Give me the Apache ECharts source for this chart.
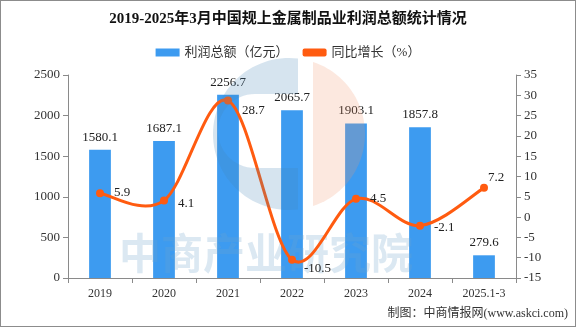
<!DOCTYPE html>
<html>
<head>
<meta charset="utf-8">
<script src="https://cdn.jsdelivr.net/npm/echarts@6/dist/echarts.min.js"></script>
<style>
  html, body { margin: 0; padding: 0; background: #fff; }
  #chart { width: 574px; height: 325px; border: 1px solid #8c8c8c; }
</style>
</head>
<body>
<div id="chart"></div>
<script>
// Periods on the category axis
const categories = ['2019', '2020', '2021', '2022', '2023', '2024', '2025.1-3'];
// Total profit, 100 million yuan
const profit = [1580.1, 1687.1, 2256.7, 2065.7, 1903.1, 1857.8, 279.6];
// Year-on-year growth, %
const growth = [5.9, 4.1, 28.7, -10.5, 4.5, -2.1, 7.2];
// Axis tick settings
const leftTicks = { min: 0, max: 2500, interval: 500 };
const rightTicks = { min: -15, max: 35, interval: 5 };

// Label nudges for the growth labels (pixels)
const growthLabelOffsets = [[0, -1], [0, 3], [0, 10], [-2, 9], [0, 0], [0, 2], [-10, -10]];

const LINE_COLOR = '#ff5b10';
const font = '"Liberation Serif", "Noto Sans CJK SC", serif';
const plain = v => String(v);

// Cubic Bezier path through the points (Catmull-Rom tangents)
function smoothPath(pts) {
  let d = 'M' + pts[0][0] + ' ' + pts[0][1];
  for (let i = 0; i < pts.length - 1; i++) {
    const p0 = pts[Math.max(i - 1, 0)];
    const p1 = pts[i];
    const p2 = pts[i + 1];
    const p3 = pts[Math.min(i + 2, pts.length - 1)];
    const c1x = p1[0] + (p2[0] - p0[0]) / 6;
    const c1y = p1[1] + (p2[1] - p0[1]) / 6;
    const c2x = p2[0] - (p3[0] - p1[0]) / 6;
    const c2y = p2[1] - (p3[1] - p1[1]) / 6;
    d += ' C' + c1x + ' ' + c1y + ' ' + c2x + ' ' + c2y + ' ' + p2[0] + ' ' + p2[1];
  }
  return d;
}

// Brand mark behind the plot: a "C" on the left and a half-disc on the right
const logoCx = 288, logoCy = 133, logoR = 76;
const hole = { cx: 254, cy: 130, r: 37 };
function logoC(xCut) {
  const pts = [];
  const a0 = Math.acos((xCut - logoCx) / logoR);
  const steps = 60;
  for (let k = 0; k <= steps; k++) {
    const a = a0 + (2 * Math.PI - 2 * a0) * k / steps;
    pts.push([logoCx + logoR * Math.cos(a), logoCy - logoR * Math.sin(a)]);
  }
  // cut-out: rectangle plus left half of a circle
  pts.push([xCut, hole.cy + hole.r]);
  for (let k = 0; k <= 30; k++) {
    const a = -Math.PI / 2 - Math.PI * k / 30;
    pts.push([hole.cx + hole.r * Math.cos(a), hole.cy - hole.r * Math.sin(a)]);
  }
  pts.push([xCut, hole.cy - hole.r]);
  return pts;
}
function logoHalf(xCut) {
  const pts = [];
  const a0 = Math.acos((xCut - logoCx) / logoR);
  const steps = 60;
  for (let k = 0; k <= steps; k++) {
    const a = a0 - 2 * a0 * k / steps;
    pts.push([logoCx + logoR * Math.cos(a), logoCy - logoR * Math.sin(a)]);
  }
  return pts;
}

const chart = echarts.init(document.getElementById('chart'));

chart.setOption({
  backgroundColor: '#fff',
  animation: false,
  title: {
    text: '2019-2025年3月中国规上金属制品业利润总额统计情况',
    left: 'center',
    top: 6,
    textStyle: { fontSize: 15, fontWeight: 'bold', color: '#111', fontFamily: font }
  },
  legend: {
    top: 40,
    left: 'center',
    itemGap: 14,
    itemWidth: 24,
    itemHeight: 8,
    textStyle: { fontSize: 13, color: '#333', fontFamily: font },
    data: [
      { name: '利润总额（亿元）', icon: 'rect' },
      {
        name: '同比增长（%）',
        itemStyle: { color: LINE_COLOR },
        lineStyle: { color: LINE_COLOR, width: 3, opacity: 1 }
      }
    ]
  },
  grid: { left: 67, right: 59, top: 74, bottom: 48 },
  graphic: [
    {
      type: 'polygon',
      z: 10,
      silent: true,
      shape: { points: logoC(297) },
      style: { fill: 'rgba(70,130,180,0.22)' }
    },
    {
      type: 'polygon',
      z: 10,
      silent: true,
      shape: { points: logoHalf(312) },
      style: { fill: 'rgba(240,150,110,0.22)' }
    },
    {
      type: 'text',
      left: 118,
      top: 231,
      z: 3,
      silent: true,
      style: {
        text: '中商产业研究院',
        fontSize: 42,
        fontWeight: 'bold',
        fill: 'rgba(110,165,205,0.25)',
        fontFamily: '"Noto Sans CJK SC", sans-serif'
      }
    },
    {
      type: 'text',
      right: 7,
      bottom: 6,
      style: {
        text: '制图：中商情报网(www.askci.com)',
        fontSize: 12,
        fill: '#333',
        fontFamily: font
      }
    }
  ],
  xAxis: {
    type: 'category',
    data: categories,
    axisLine: { lineStyle: { color: '#8a8a8a' } },
    axisTick: { show: true, alignWithLabel: false, lineStyle: { color: '#8a8a8a' } },
    axisLabel: { color: '#333', fontSize: 12, fontFamily: font, margin: 10 }
  },
  yAxis: [
    {
      type: 'value',
      min: leftTicks.min,
      max: leftTicks.max,
      interval: leftTicks.interval,
      axisLine: { show: true, lineStyle: { color: '#8a8a8a' } },
      axisTick: { show: true, lineStyle: { color: '#8a8a8a' } },
      splitLine: { show: false },
      axisLabel: { color: '#333', fontSize: 13, fontFamily: font, formatter: plain }
    },
    {
      type: 'value',
      min: rightTicks.min,
      max: rightTicks.max,
      interval: rightTicks.interval,
      axisLine: { show: true, lineStyle: { color: '#8a8a8a' } },
      axisTick: { show: true, lineStyle: { color: '#8a8a8a' } },
      splitLine: { show: false },
      axisLabel: { color: '#333', fontSize: 13, fontFamily: font, formatter: plain }
    }
  ],
  series: [
    {
      name: '利润总额（亿元）',
      type: 'bar',
      data: profit,
      barWidth: '34%',
      z: 2,
      itemStyle: { color: '#3d9bf0' },
      label: {
        show: true,
        position: 'top',
        distance: 6,
        color: '#222',
        fontSize: 13,
        fontFamily: font,
        formatter: p => plain(p.value)
      }
    },
    {
      // smooth curve for the growth series
      name: '同比增长（%）',
      type: 'custom',
      yAxisIndex: 1,
      z: 5,
      silent: true,
      data: [0],
      renderItem: (params, api) => {
        const pts = growth.map((v, i) => api.coord([i, v]));
        return {
          type: 'path',
          shape: { pathData: smoothPath(pts) },
          style: { fill: null, stroke: LINE_COLOR, lineWidth: 3 }
        };
      }
    },
    {
      // markers and value labels for the growth series
      name: '同比增长（%）',
      type: 'line',
      yAxisIndex: 1,
      z: 6,
      data: growth.map((v, i) => ({
        value: v,
        label: { offset: growthLabelOffsets[i] }
      })),
      symbol: 'circle',
      symbolSize: 8,
      lineStyle: { opacity: 0 },
      itemStyle: { color: LINE_COLOR },
      label: {
        show: true,
        position: 'right',
        distance: 10,
        color: '#222',
        fontSize: 13,
        fontFamily: font
      }
    }
  ]
});
</script>
</body>
</html>
